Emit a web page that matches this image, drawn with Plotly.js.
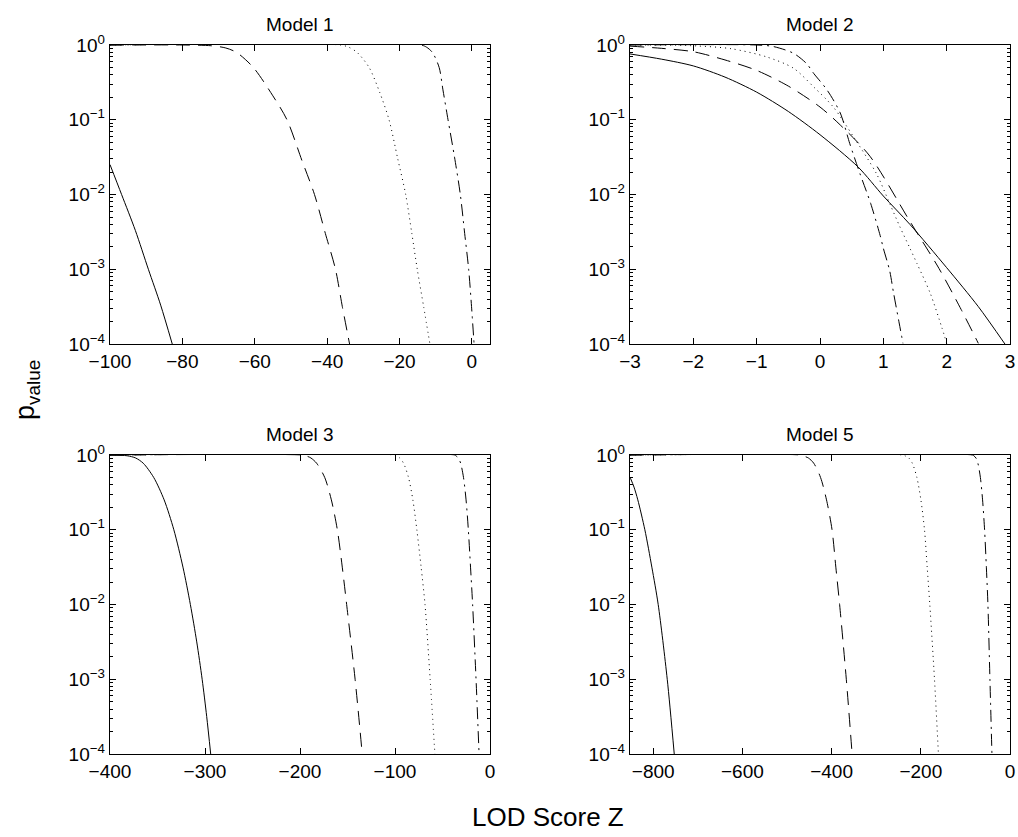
<!DOCTYPE html>
<html>
<head>
<meta charset="utf-8">
<script src="https://cdn.plot.ly/plotly-3.0.1.min.js"></script>
<style>html,body{margin:0;padding:0;background:#fff;}#chart{width:1018px;height:837px;}</style>
</head>
<body>
<div id="chart"></div>
<script>
// ---------- data ----------
const panelTitles = ["Model 1", "Model 2", "Model 3", "Model 5"];
const seriesNames = ["solid", "dashed", "dotted", "dash-dot"];

// Model 1
const m1SolidX = [-100, -96.8, -93, -89.4, -86, -82.8];
const m1SolidP = [0.0251, 0.01, 0.00331, 0.001, 0.000331, 0.0001];
const m1DashX = [-100, -80, -72, -68, -65, -60.4, -55, -51.1, -47, -43.5, -40.5, -37.7, -35.8, -33.8];
const m1DashP = [1, 1, 0.977, 0.912, 0.794, 0.501, 0.209, 0.1, 0.0288, 0.01, 0.00302, 0.001, 0.000316, 0.0001];
const m1DotX = [-100, -36.3, -34, -31.7, -28.4, -25.5, -22.9, -20.5, -18.3, -16.6, -15.1, -13.3, -11.6];
const m1DotP = [1, 1, 0.933, 0.794, 0.501, 0.234, 0.1, 0.0302, 0.01, 0.00302, 0.001, 0.000309, 0.0001];
const m1DashDotX = [-100, -14.1, -12.5, -10.9, -9.05, -8, -6.6, -4.8, -3.2, -2, -0.9, -0.1, 0.6];
const m1DashDotP = [1, 1, 0.933, 0.794, 0.501, 0.251, 0.1, 0.0316, 0.01, 0.00302, 0.001, 0.000316, 0.0001];

// Model 2
const m2SolidX = [-3, -2.5, -2, -1.5, -1, -0.5, 0, 0.6, 1, 1.42, 2, 2.5, 2.92];
const m2SolidP = [0.759, 0.646, 0.525, 0.372, 0.234, 0.129, 0.0631, 0.0234, 0.00955, 0.00398, 0.00105, 0.000316, 0.0001];
const m2DashX = [-3, -2.5, -2, -1.5, -1, -0.5, 0, 0.32, 0.79, 1.42, 1.88, 2.23, 2.5];
const m2DashP = [0.966, 0.902, 0.813, 0.631, 0.457, 0.282, 0.148, 0.0851, 0.0324, 0.00437, 0.00102, 0.000288, 0.000102];
const m2DotX = [-3, -2, -1.4, -0.84, -0.42, -0.1, 0.21, 0.53, 0.89, 1.1, 1.26, 1.42, 1.53, 1.74, 1.92, 2.0];
const m2DotP = [1, 0.977, 0.891, 0.692, 0.490, 0.275, 0.148, 0.0589, 0.0191, 0.00759, 0.00372, 0.00191, 0.00120, 0.000479, 0.000170, 0.000102];
const m2DashDotX = [-3, -1, -0.74, -0.42, -0.21, -0.1, 0.11, 0.32, 0.47, 0.63, 0.8, 0.95, 1.0, 1.1, 1.16, 1.25, 1.31];
const m2DashDotP = [1, 1, 0.955, 0.776, 0.562, 0.417, 0.251, 0.123, 0.0479, 0.0191, 0.00759, 0.00282, 0.00191, 0.000955, 0.000490, 0.000191, 0.000102];

// Model 3
const m3SolidX = [-400, -382, -373, -365, -354, -343, -332.8, -323.2, -315.4, -308.7, -303, -298.2, -294];
const m3SolidP = [1, 0.977, 0.912, 0.776, 0.501, 0.251, 0.1, 0.0316, 0.01, 0.00316, 0.001, 0.000316, 0.0001];
const m3DashX = [-400, -198, -194, -188.5, -182.5, -174, -167, -160.7, -155.5, -150.9, -142, -134.5];
const m3DashP = [1, 1, 0.977, 0.912, 0.776, 0.501, 0.251, 0.1, 0.0316, 0.01, 0.001, 0.0001];
const m3DotX = [-400, -101, -99.5, -95, -91, -85.8, -81.2, -77, -72.5, -68.4, -63, -58];
const m3DotP = [1, 1, 0.977, 0.912, 0.776, 0.501, 0.251, 0.1, 0.0316, 0.01, 0.001, 0.0001];
const m3DashDotX = [-400, -37, -35.9, -33.3, -30.9, -27.9, -25.2, -22.8, -20.5, -18.3, -14.7, -11.5];
const m3DashDotP = [1, 1, 0.977, 0.912, 0.776, 0.501, 0.251, 0.1, 0.0316, 0.01, 0.001, 0.0001];

// Model 5
const m4SolidX = [-851, -843, -834.5, -818.7, -803, -788.8, -768.5, -752.8];
const m4SolidP = [0.490, 0.372, 0.251, 0.1, 0.0316, 0.01, 0.001, 0.0001];
const m4DashX = [-852, -470, -465, -452, -440, -424.8, -411.4, -399, -390.5, -382, -367, -354];
const m4DashP = [1, 1, 0.977, 0.912, 0.776, 0.501, 0.251, 0.1, 0.0316, 0.01, 0.001, 0.0001];
const m4DotX = [-852, -240, -235.6, -226.9, -219, -208.8, -199.8, -191.7, -185.7, -179.8, -169.3, -160.5];
const m4DotP = [1, 1, 0.977, 0.912, 0.776, 0.501, 0.251, 0.1, 0.0316, 0.01, 0.001, 0.0001];
const m4DashDotX = [-852, -84, -81.1, -76.3, -72, -66.4, -61.5, -57, -53, -49.5, -45, -40.5];
const m4DashDotP = [1, 1, 0.977, 0.912, 0.776, 0.501, 0.251, 0.1, 0.0316, 0.01, 0.001, 0.0001];

// axis ticks
const yTickVals = [1e-4, 1e-3, 1e-2, 1e-1, 1];
const yTickText = ["10<sup>\u22124</sup>", "10<sup>\u22123</sup>", "10<sup>\u22122</sup>", "10<sup>\u22121</sup>", "10<sup>0</sup>"];
const xRanges = [[-100, 5], [-3, 3], [-400, 0], [-852, 0]];
const xDticks = [20, 1, 100, 200];

// ---------- build ----------
const W = 1018, H = 837;
const colX = [[110 / W, 490 / W], [630 / W, 1010 / W]];
const rowY = [[1 - 344 / H, 1 - 45 / H], [1 - 754 / H, 1 - 455 / H]];
const FONT = "Liberation Sans, Arial, Helvetica, sans-serif";
const dashes = ["solid", "14px,8px", "1px,4px", "12px,5px,2px,5px"];

const panels = [
  [[m1SolidX, m1SolidP], [m1DashX, m1DashP], [m1DotX, m1DotP], [m1DashDotX, m1DashDotP]],
  [[m2SolidX, m2SolidP], [m2DashX, m2DashP], [m2DotX, m2DotP], [m2DashDotX, m2DashDotP]],
  [[m3SolidX, m3SolidP], [m3DashX, m3DashP], [m3DotX, m3DotP], [m3DashDotX, m3DashDotP]],
  [[m4SolidX, m4SolidP], [m4DashX, m4DashP], [m4DotX, m4DotP], [m4DashDotX, m4DashDotP]]
];

const minorVals = [];
for (let e = -4; e < 0; e++) for (let k = 2; k <= 9; k++) minorVals.push(k * Math.pow(10, e));

const traces = [];
panels.forEach((series, pi) => {
  const sfx = pi === 0 ? "" : String(pi + 1);
  series.forEach((s, si) => {
    traces.push({
      type: "scatter", mode: "lines", x: s[0], y: s[1],
      name: panelTitles[pi] + " " + seriesNames[si],
      xaxis: "x" + sfx, yaxis: "y" + sfx,
      line: {color: "black", width: 1, dash: dashes[si], shape: "spline", smoothing: 0.8},
      showlegend: false, hoverinfo: "skip"
    });
  });
});

const layout = {
  width: W, height: H,
  margin: {l: 0, r: 0, t: 0, b: 0},
  paper_bgcolor: "white", plot_bgcolor: "white",
  showlegend: false,
  font: {family: FONT, color: "black", size: 19},
  annotations: []
};

const common = {
  showline: true, linecolor: "black", linewidth: 1.3, mirror: "ticks",
  ticks: "inside", ticklen: 6, tickwidth: 1, tickcolor: "black",
  showgrid: false, zeroline: false,
  tickfont: {family: FONT, size: 19, color: "black"}
};

for (let pi = 0; pi < 4; pi++) {
  const sfx = pi === 0 ? "" : String(pi + 1);
  const col = pi % 2, row = Math.floor(pi / 2);
  layout["xaxis" + sfx] = Object.assign({}, common, {
    domain: colX[col], anchor: "y" + sfx, range: xRanges[pi],
    tickmode: "linear", tick0: 0, dtick: xDticks[pi]
  });
  layout["yaxis" + sfx] = Object.assign({}, common, {
    domain: rowY[row], anchor: "x" + sfx, type: "log", range: [-4, 0],
    tickmode: "array", tickvals: yTickVals, ticktext: yTickText,
    minor: {ticks: "inside", ticklen: 3, tickwidth: 1, tickcolor: "black", tickmode: "array", tickvals: minorVals, showgrid: false}
  });
  layout.annotations.push({
    text: panelTitles[pi], xref: "paper", yref: "paper",
    x: (colX[col][0] + colX[col][1]) / 2, y: rowY[row][1],
    xanchor: "center", yanchor: "bottom", yshift: 8, showarrow: false,
    font: {family: FONT, size: 19, color: "black"}
  });
}

layout.annotations.push({
  text: "LOD Score Z", xref: "paper", yref: "paper",
  x: 548 / W, y: 1 - 817 / H, xanchor: "center", yanchor: "middle",
  showarrow: false, font: {family: FONT, size: 26, color: "black"}
});
layout.annotations.push({
  text: "p<sub>value</sub>", xref: "paper", yref: "paper",
  x: 27 / W, y: 1 - 390 / H, xanchor: "center", yanchor: "middle", textangle: -90,
  showarrow: false, font: {family: FONT, size: 27, color: "black"}
});

Plotly.newPlot("chart", traces, layout, {staticPlot: true, displayModeBar: false});
</script>
</body>
</html>
